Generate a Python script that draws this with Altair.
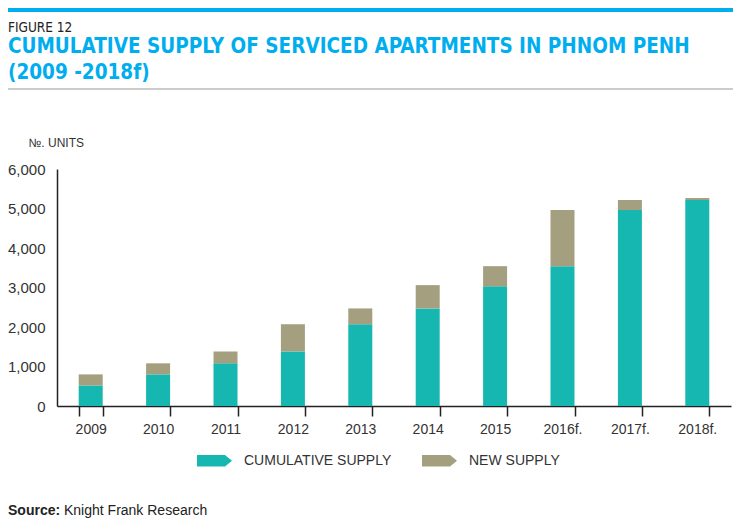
import altair as alt
import pandas as pd

years = ["2009", "2010", "2011", "2012", "2013", "2014", "2015", "2016f.", "2017f.", "2018f."]
cumulative = [520, 800, 1080, 1380, 2070, 2470, 3030, 3540, 4960, 5215]
new_supply = [280, 280, 300, 690, 400, 590, 510, 1420, 255, 50]
series = ["CUMULATIVE SUPPLY", "NEW SUPPLY"]
colors = ["#16B6B1", "#A49F7F"]

rows = []
for y, c, n in zip(years, cumulative, new_supply):
    rows.append({"year": y, "series": series[0], "value": c, "ord": 0})
    rows.append({"year": y, "series": series[1], "value": n, "ord": 1})
df = pd.DataFrame(rows)

FONT = "Liberation Sans"
NARROW = "Liberation Sans Narrow, DejaVu Sans Condensed, Liberation Sans"
ARROW = "M-1,-0.33L0.6,-0.33L1,0L0.6,0.33L-1,0.33Z"

bars = alt.Chart(df).mark_bar(size=24).encode(
    x=alt.X("year:N", sort=years, title=None,
            scale=alt.Scale(paddingInner=0.64, paddingOuter=0.32),
            axis=alt.Axis(labelAngle=0, labelFont=FONT, labelFontSize=14, labelColor="#333333",
                          labelPadding=6, tickBand="extent", tickSize=10, tickColor="#222222",
                          domainColor="#222222", tickWidth=1.5, domainWidth=1.5)),
    y=alt.Y("value:Q", stack="zero",
            scale=alt.Scale(domain=[0, 6000], nice=False),
            axis=alt.Axis(values=[0, 1000, 2000, 3000, 4000, 5000, 6000], format=",.0f",
                          grid=False, ticks=False, labelFont=FONT, labelFontSize=15,
                          labelColor="#333333", labelPadding=12, domainColor="#222222",
                          domainWidth=1.5,
                          title="№. UNITS", titleAngle=0, titleAlign="left",
                          titleBaseline="alphabetic", titleX=-29, titleY=-23,
                          titleFont=FONT, titleFontSize=12, titleFontWeight="normal",
                          titleColor="#333333")),
    color=alt.Color("series:N", sort=series,
                    scale=alt.Scale(domain=series, range=colors),
                    legend=alt.Legend(title=None, orient="none", direction="horizontal",
                                      legendX=140, legendY=274, symbolType=ARROW,
                                      symbolSize=1225, symbolStrokeWidth=0,
                                      labelFont=FONT, labelFontSize=14,
                                      labelColor="#333333", labelOffset=12,
                                      columnPadding=30, labelLimit=300)),
    order=alt.Order("ord:Q"),
)

def txt(s, x, y, size, color, weight="normal", font=FONT):
    return alt.Chart(pd.DataFrame({"t": [s]})).mark_text(
        align="left", baseline="alphabetic", font=font, fontSize=size,
        fontWeight=weight, color=color
    ).encode(text="t:N", x=alt.value(x), y=alt.value(y))

top_bar = alt.Chart(pd.DataFrame({"a": [0]})).mark_rule(color="#00AEEF", strokeWidth=4).encode(
    x=alt.value(-49), x2=alt.value(676), y=alt.value(-159))
gray_rule = alt.Chart(pd.DataFrame({"a": [0]})).mark_rule(color="#9A9A9A", strokeWidth=1.2).encode(
    x=alt.value(-49), x2=alt.value(676), y=alt.value(-80))

layers = [
    bars,
    top_bar,
    gray_rule,
    txt("FIGURE 12", -49, -137, 13.5, "#222222", font=NARROW),
    txt("CUMULATIVE SUPPLY OF SERVICED APARTMENTS IN PHNOM PENH", -49, -116, 20.5, "#00AEEF", "bold", NARROW),
    txt("(2009 -2018f)", -49, -90, 20.5, "#00AEEF", "bold", NARROW),
    txt("Source:", -49, 346, 14, "#222222", "bold"),
    txt("Knight Frank Research", 7, 346, 14, "#222222"),
]

chart = alt.layer(*layers).properties(
    width=674, height=237,
    autosize=alt.AutoSizeParams(type="none"),
    padding={"left": 49, "top": 161, "right": 3, "bottom": 112},
).configure_view(stroke=None)

chart.save("out.html", embed_options={"renderer": "svg", "actions": False})
